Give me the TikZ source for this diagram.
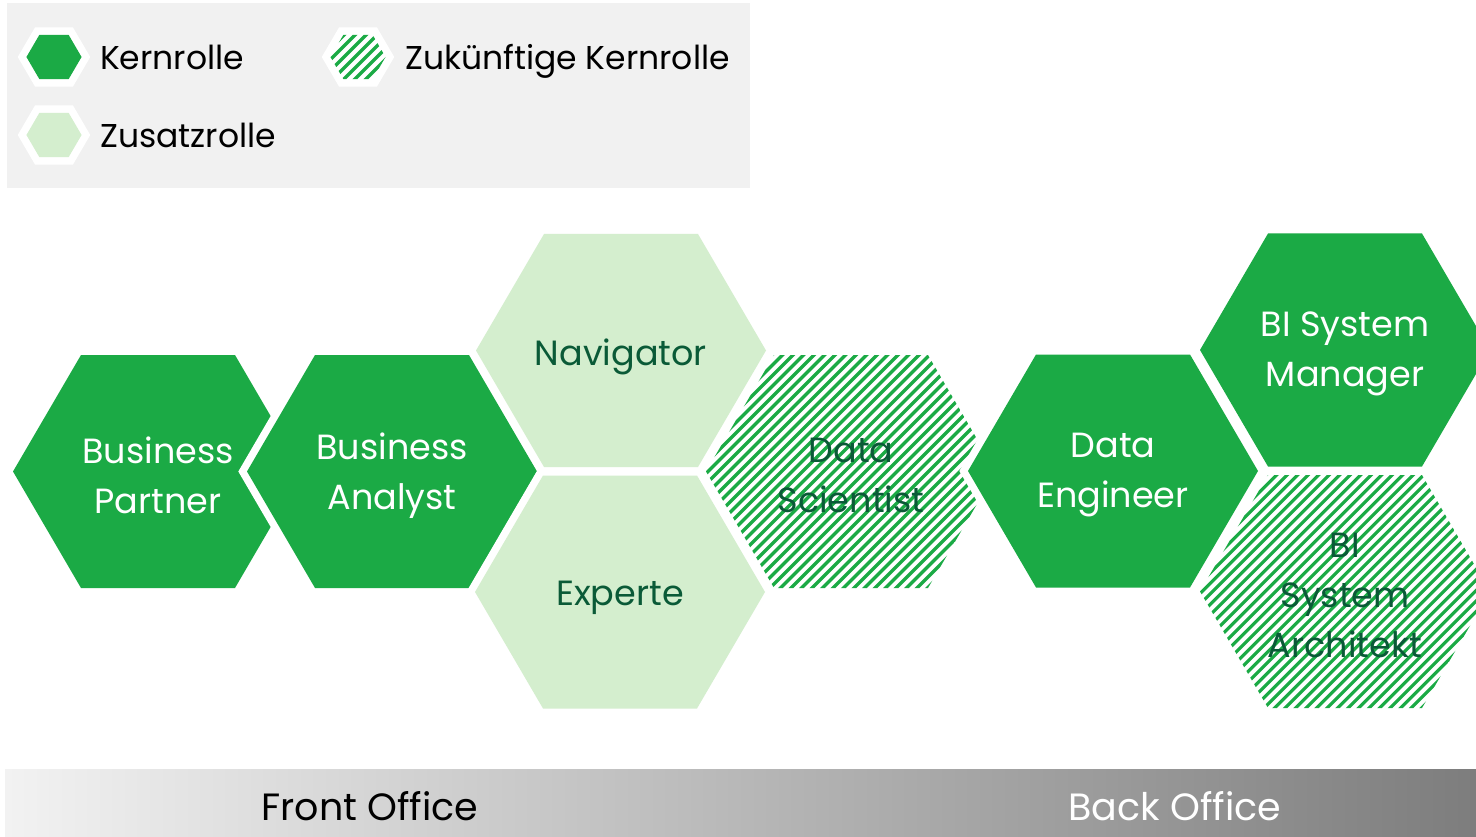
\documentclass[tikz,border=0pt]{standalone}
\usepackage{fontspec}
\setmainfont{Poppins}
\usetikzlibrary{positioning}

\definecolor{kgreen}{RGB}{27,170,69}
\definecolor{zgreen}{RGB}{212,238,206}
\definecolor{tgreen}{RGB}{10,90,55}
\definecolor{legbg}{RGB}{241,241,241}
\definecolor{barl}{RGB}{242,242,242}
\definecolor{barr}{RGB}{125,125,125}

% Sechseck um den Ursprung (Pixelmass)
\newcommand{\hexp}{(-145,0) -- (-77,-116.5) -- (77,-116.5) -- (145,0) -- (77,116.5) -- (-77,116.5) -- cycle}

\begin{document}
\begin{tikzpicture}[x=1pt,y=-1pt,
		kern/.style={fill=kgreen,preaction={draw=white,line width=15pt}},
		zusatz/.style={fill=zgreen,preaction={draw=white,line width=15pt}},
		halo/.style={fill=white,draw=white,line width=15pt},
		stripe/.style={draw=kgreen,line width=3.2pt},
		rtext/.style={font=\fontsize{35}{50}\selectfont,align=center,text=white,inner sep=0pt,yshift=-4pt},
		dtext/.style={rtext,text=tgreen},
		legtext/.style={font=\fontsize{33}{40}\selectfont,anchor=west,inner sep=0pt,text height=24pt,text depth=7pt,yshift=-4pt},
		bartext/.style={font=\fontsize{38}{40}\selectfont,inner sep=0pt}]
		\useasboundingbox (0,0) rectangle (1476,837);
		% Legende
		\fill[legbg] (7,3) rectangle (750,188);
		\coordinate (lg1) at (54,57);
		\coordinate (lg2) at (358,57);
		\coordinate (lg3) at (54,135);
		\path[kern,shift={(lg1)},scale=0.19] \hexp;
		\path[zusatz,shift={(lg3)},scale=0.19] \hexp;
		\path[halo,shift={(lg2)},scale=0.19] \hexp;
		\begin{scope}
		\clip[shift={(lg2)},scale=0.19] \hexp;
		\foreach \k in {-8,...,4}
		\draw[stripe,shift={(lg2)}] (11*\k,30) -- ++(60,-60);
		\end{scope}
		\node[legtext] (lt1) [right=46pt of lg1] {Kernrolle};
		\node[legtext] (lt2) [right=47pt of lg2] {Zukünftige Kernrolle};
		\node[legtext] (lt3) [right=46pt of lg3] {Zusatzrolle};
		% Mittelpunkte
		\coordinate (c1) at (158,471.5);
		\coordinate (c2) at (392,471.5);
		\coordinate (c3) at (621,350.5);
		\coordinate (c4) at (620,592);
		\coordinate (c5) at (851,471.5);
		\coordinate (c6) at (1113,471);
		\coordinate (c7) at (1345,350);
		\coordinate (c8) at (1345,591.5);
		% Rollen
		\path[kern,shift={(c1)}] \hexp;
		\path[kern,shift={(c2)}] \hexp;
		\path[zusatz,shift={(c3)}] \hexp;
		\path[zusatz,shift={(c4)}] \hexp;
		\path[halo,shift={(c5)}] \hexp;
		\begin{scope}
		\clip[shift={(c5)}] \hexp;
		\foreach \k in {-40,...,15}
		\draw[stripe,shift={(c5)}] (10.5*\k,130) -- ++(260,-260);
		\end{scope}
		\path[kern,shift={(c6)}] \hexp;
		\path[kern,shift={(c7)}] \hexp;
		\path[halo,shift={(c8)}] \hexp;
		\begin{scope}
		\clip[shift={(c8)}] \hexp;
		\foreach \k in {-40,...,15}
		\draw[stripe,shift={(c8)}] (10.5*\k,130) -- ++(260,-260);
		\end{scope}
		\node[rtext] (rl1) at (c1) {Business\\Partner};
		\node[rtext] (rl2) at (c2) {Business\\Analyst};
		\node[dtext,yshift=-2pt] (rl3) at (c3) {Navigator};
		\node[dtext,yshift=-2pt] (rl4) at (c4) {Experte};
		\node[dtext] (rl5) at (c5) {Data\\Scientist};
		\node[rtext] (rl6) at (c6) {Data\\Engineer};
		\node[rtext] (rl7) at (c7) {BI System\\Manager};
		\node[dtext] (rl8) at (c8) {BI\\System\\Architekt};
		% Leiste unten
		\shade[left color=barl,right color=barr] (5,769) rectangle (1476,837);
		\node[bartext] (fo) at (370,806) {Front Office};
		\node[bartext,text=white] (bo) at (1175,806) {Back Office};
\end{tikzpicture}
\end{document}
